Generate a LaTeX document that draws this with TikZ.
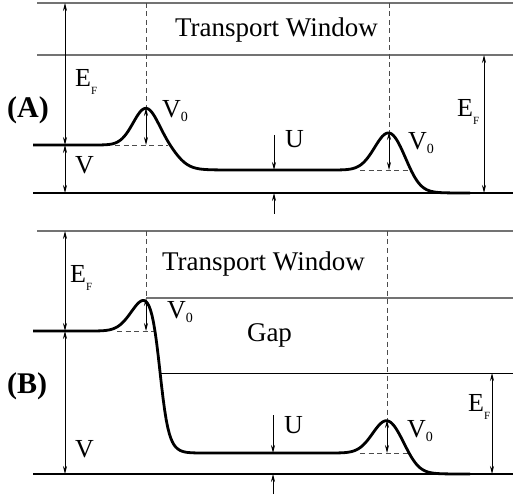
\documentclass[tikz,border=0pt]{standalone}
\usepackage{fontspec}
\setmainfont{Liberation Serif}
\usetikzlibrary{arrows.meta}
\newcommand{\Ef}{E\raisebox{-8pt}{\fontsize{11}{11}\selectfont F}}
\newcommand{\Vz}{V\raisebox{-4pt}{\fontsize{14}{14}\selectfont 0}}

\begin{document}
\begin{tikzpicture}[x=1pt,y=-1pt,>={Stealth[length=8pt,width=4pt]},
  declare function={
    gb(\t,\m,\s)=exp(-min(((\t-\m)/\s)^2,9));
    st(\t,\m,\s)=1/(1+exp(-max(min((\t-\m)/\s,9),-9)));
  }]
  \tikzstyle{lvl}=[line width=2.6pt]
  \tikzstyle{pot}=[line width=2.8pt,line join=round]
  \tikzstyle{win}=[line width=1.2pt,draw=black!55]
  \tikzstyle{gapl}=[line width=0.9pt]
  \tikzstyle{guide}=[line width=0.9pt,dash pattern=on 5pt off 3.5pt,draw=black!70]
  \tikzstyle{dim}=[<->,line width=0.8pt]
  \tikzstyle{push}=[->,line width=0.8pt]
  \tikzstyle{lab}=[inner sep=0pt,anchor=base west,font=\fontsize{26}{28}\selectfont]
  \tikzstyle{ttl}=[inner sep=0pt,anchor=base,font=\fontsize{27}{29}\selectfont]
  \tikzstyle{tag}=[inner sep=0pt,anchor=base west,font=\fontsize{30}{32}\selectfont\bfseries]
  \useasboundingbox (0,0) rectangle (513,502);

  % (A)
  \draw[win] (37,3) -- (513,3);
  \draw[win] (37,55) -- (513,55);
  \node[ttl] (aWin) at (276.5,37) {Transport Window};
  \node[tag] (aTag) at (7,118) {(A)};

  \coordinate (aTop) at (65,3);
  \coordinate (aLeft) at (65,145);
  \coordinate (aGnd) at (65,193);
  \coordinate (aPk1) at (146,108);
  \coordinate (aFt1) at (146,145);
  \coordinate (aPk2) at (389,132);
  \coordinate (aFt2) at (389,170);
  \coordinate (aRt) at (484,55);
  \coordinate (aRb) at (484,193);
  \coordinate (aU) at (274,170);
  \coordinate (aUg) at (274,193);

  \draw[guide] (146,3) -- (aPk1);
  \draw[guide] (389,3) -- (aPk2);
  \draw[guide] (115,145) -- (168,145);
  \draw[guide] (360,170) -- (410,170);

  \draw[lvl] (33,193) -- (513,193);
  \draw[pot] plot[domain=33:470,samples=240]
    (\x,{145+25*st(\x,178,7)-37*gb(\x,146,18)-38*gb(\x,389,20)+23*st(\x,411,7)});

  \draw[dim] (aTop) -- (aLeft);
  \draw[dim] (aLeft) -- (aGnd);
  \draw[dim] (aPk1) -- (aFt1);
  \draw[dim] (aPk2) -- (aFt2);
  \draw[dim] (aRt) -- (aRb);
  \draw[push] (274,135) -- (aU);
  \draw[push] (274,214) -- (aUg);

  \node[lab] (aEf) at (75,87) {\Ef};
  \node[lab] (aV) at (75,174) {V};
  \node[lab] (aV1) at (162,118) {\Vz};
  \node[lab] (aV2) at (408,150) {\Vz};
  \node[lab] (aUl) at (285,148) {U};
  \node[lab] (aEr) at (457,117) {\Ef};

  % (B)
  \draw[win] (37,231) -- (513,231);
  \draw[win] (146,298) -- (513,298);
  \draw[gapl] (161,373) -- (513,373);
  \node[ttl] (bWin) at (263.5,270) {Transport Window};
  \node[ttl] (bGap) at (269.5,341) {Gap};
  \node[tag] (bTag) at (7,393) {(B)};

  \coordinate (bTop) at (65,231);
  \coordinate (bLeft) at (65,331);
  \coordinate (bGnd) at (65,474);
  \coordinate (bPk1) at (146,298);
  \coordinate (bFt1) at (146,331);
  \coordinate (bPk2) at (387,420);
  \coordinate (bFt2) at (387,453);
  \coordinate (bRt) at (492,373);
  \coordinate (bRb) at (492,474);
  \coordinate (bU) at (273,453);
  \coordinate (bUg) at (273,474);

  \draw[guide] (146,231) -- (bPk1);
  \draw[guide] (387,231) -- (bPk2);
  \draw[guide] (117,331) -- (155,331);
  \draw[guide] (360,453) -- (408,453);

  \draw[lvl] (33,474) -- (513,474);
  \draw[pot] plot[domain=33:470,samples=280]
    (\x,{331+122*st(\x,160,4)-33*gb(\x,146,20)-33*gb(\x,387,20)+21*st(\x,410,7)});

  \draw[dim] (bTop) -- (bLeft);
  \draw[dim] (bLeft) -- (bGnd);
  \draw[dim] (bPk1) -- (bFt1);
  \draw[dim] (bPk2) -- (bFt2);
  \draw[dim] (bRt) -- (bRb);
  \draw[push] (273,415) -- (bU);
  \draw[push] (273,494) -- (bUg);

  \node[lab] (bEf) at (70,282) {\Ef};
  \node[lab] (bV) at (75,457) {V};
  \node[lab] (bV1) at (167,318) {\Vz};
  \node[lab] (bV2) at (407,437) {\Vz};
  \node[lab] (bUl) at (284,433) {U};
  \node[lab] (bEr) at (468,411) {\Ef};
\end{tikzpicture}
\end{document}
